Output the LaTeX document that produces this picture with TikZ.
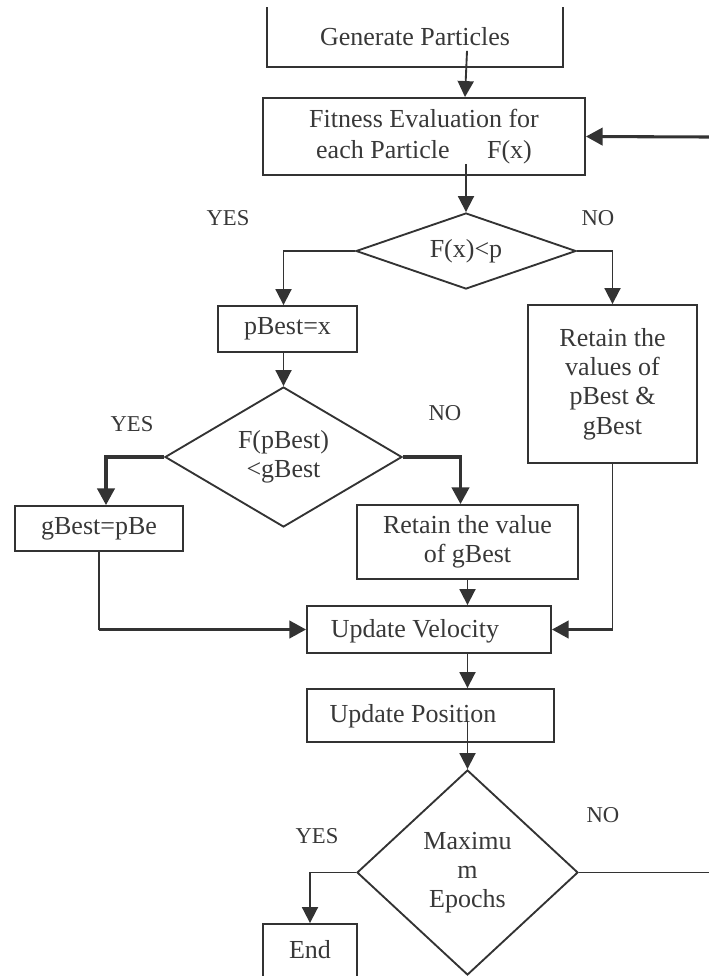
\documentclass[tikz,border=0pt]{standalone}
\usepackage{fontspec}
\setmainfont{Liberation Serif}
\usetikzlibrary{shapes.geometric,arrows.meta,calc}
\definecolor{ln}{HTML}{333333}
\definecolor{tx}{HTML}{383838}
\begin{document}
\begin{tikzpicture}[x=0.75pt,y=-0.75pt,
  every node/.style={text=tx, font=\fontsize{19.5}{22}\selectfont, inner sep=0pt},
  sz/.style 2 args={minimum width=#1*0.75pt, minimum height=#2*0.75pt},
  box/.style={draw=ln, line width=1.4pt, rectangle, align=center},
  dia/.style={draw=ln, line width=1.4pt, shape=diamond, align=center},
  lbl/.style={font=\fontsize{17}{19}\selectfont},
  con/.style={draw=ln, line width=1.4pt},
  arr/.style={con, -{Triangle[length=12pt,width=12pt]}},
  thk/.style={draw=ln, line width=2.3pt, -{Triangle[length=12.5pt,width=13pt]}},
  thkline/.style={draw=ln, line width=2.3pt}
]
\useasboundingbox (0,0) rectangle (709,976);
\clip (0,0) rectangle (709,976);

% boxes and decisions
\node[box, draw=none, sz={294}{58}] (gen) at (415,37) {Generate Particles};
\draw[con] (gen.north west) -- (gen.south west) -- (gen.south east) -- (gen.north east);
\node[box, sz={322}{77}] (fit) at (424,136.5) {Fitness Evaluation for\\[1pt]each Particle\hspace{28pt}F(x)};
\node[dia, aspect=2.9, sz={220}{76}] (d1) at (466,251) {F(x)<p};
\node[box, sz={139}{46}] (pb) at (287.5,329) {pBest=x};
\node[box, sz={169}{158}] (rv) at (612.5,384) {Retain the\\values of\\pBest \&\\gBest};
\node[dia, aspect=1.69, sz={237}{140}] (d2) at (283.5,457) {F(pBest)\\<gBest};
\node[box, sz={168}{45}] (gb) at (99,528.5) {gBest=pBe};
\node[box, sz={221}{74}] (rg) at (467.5,542) {Retain the value\\of gBest};
\node[box, sz={244}{47}] (vel) at (429,629.5) {};
\node (velt) at (415,631) {Update Velocity};
\node[box, sz={247}{53}] (pos) at (430.5,715.5) {};
\node (post) at (413,716) {Update Position};
\node[dia, aspect=1.08, sz={221}{205}] (d3) at (467.5,872.5) {Maximu\\m\\Epochs};
\node[box, sz={94}{70}] (end) at (310,959) {};
\node (endt) at (310,950) {End};

% labels
\node[lbl] (y1) at (228,218) {YES};
\node[lbl] (n1) at (598,218) {NO};
\node[lbl] (y2) at (132,424) {YES};
\node[lbl] (n2) at (445,413) {NO};
\node[lbl] (n3) at (603,815) {NO};
\node[lbl] (y3) at (317,836) {YES};

% connectors
\coordinate (rf) at (709,137);
\coordinate (r3) at (709,872.5);
\draw[arr] ($(gen.south)+(52,-16)$) -- ($(fit.north)+(41,0)$);
\draw[thk] (rf) -- (fit.east);
\draw[arr] ($(d1.north |- fit.south)+(0,-12)$) -- (d1.north);
\draw[arr] (d1.west) -| (d2.north |- pb.north);
\draw[arr] (d1.east) -| (rv.north);
\draw[arr] (d2.north |- pb.south) -- (d2.north);
\draw[thk] (d2.west) -| ($(gb.north)+(7,0)$);
\draw[thk] (d2.east) -| ($(rg.north)+(-7,0)$);
\draw[con] (gb.south) -- (gb.south |- vel.west);
\draw[thk] (gb.south |- vel.west) -- (vel.west);
\draw[con] (rv.south) -- (rv.south |- vel.east);
\draw[thk] (rv.south |- vel.east) -- (vel.east);
\draw[arr] (rg.south) -- (rg.south |- vel.north);
\draw[arr] (d3.north |- vel.south) -- (d3.north |- pos.north);
\draw[arr] ($(d3.north |- pos.south)+(0,-22)$) -- (d3.north);
\draw[arr] (d3.west) -| (end.north);
\draw[con] (d3.east) -- (r3);
\end{tikzpicture}
\end{document}
